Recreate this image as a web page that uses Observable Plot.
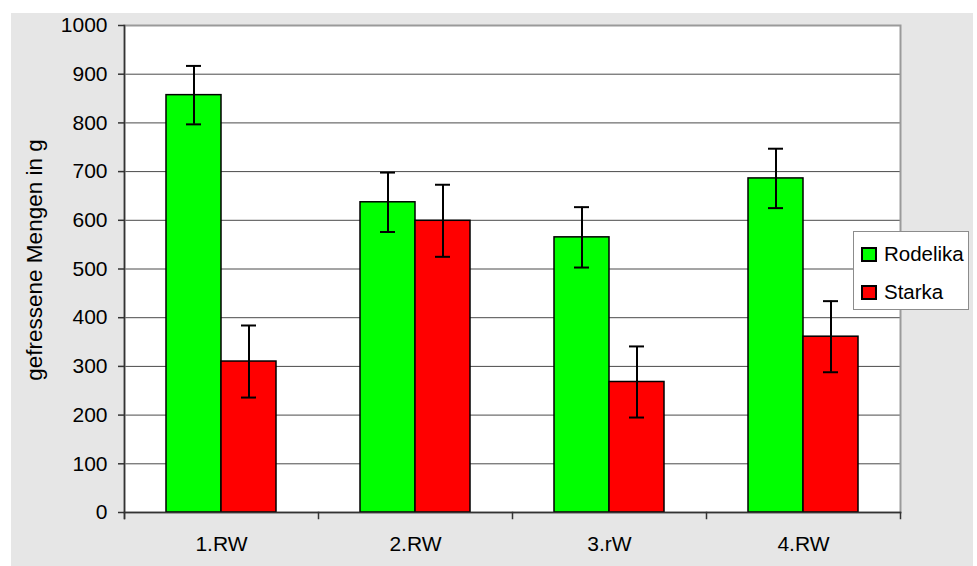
<!DOCTYPE html>
<html>
<head>
<meta charset="utf-8">
<script src="https://cdn.jsdelivr.net/npm/d3@7"></script>
<script src="https://cdn.jsdelivr.net/npm/@observablehq/plot@0.6"></script>
<style>
  body { margin: 0; background: #fff; font-family: "Liberation Sans", Arial, sans-serif; }
  #wrap { position: relative; width: 977px; height: 566px; overflow: hidden; }
  #bg { position: absolute; left: 11px; top: 13px; width: 962px; height: 553px; background: #e6e6e6; }
  #chart { position: absolute; left: 0; top: 0; }
  #legend { position: absolute; left: 853px; top: 231px; width: 116px; height: 79px; background: #fff;
            border: 1px solid #8c8c8c; box-sizing: border-box; font-size: 20.5px; color: #000; }
  .item { position: absolute; left: 7px; height: 20px; display: flex; align-items: center; white-space: nowrap; }
  .sw { width: 16px; height: 15px; border: 2px solid #000; box-sizing: border-box; margin-right: 7px; }
</style>
</head>
<body>
<div id="wrap">
  <div id="bg"></div>
  <div id="chart"></div>
  <div id="legend"></div>
</div>
<script>
const categories = ["1.RW", "2.RW", "3.rW", "4.RW"];
const series = ["Rodelika", "Starka"];
const colors = ["#00ff00", "#ff0000"];
const rodelika = [857, 637, 565, 686];
const rodelikaErr = [60, 61, 62, 61];
const starka = [310, 599, 268, 361];
const starkaErr = [74, 74, 73, 73];
const yTicks = [0, 100, 200, 300, 400, 500, 600, 700, 800, 900, 1000];
const yLabel = "gefressene Mengen in g";

const data = categories.flatMap((c, i) => [
  {cat: c, series: series[0], value: rodelika[i], err: rodelikaErr[i]},
  {cat: c, series: series[1], value: starka[i], err: starkaErr[i]}
]);

const W = 977, H = 566, mL = 123, mR = 76, mT = 25, mB = 54;
const plotH = H - mT - mB;
const axisColor = "#333";

const chart = Plot.plot({
  width: W, height: H,
  marginLeft: mL, marginRight: mR, marginTop: mT, marginBottom: mB,
  style: {background: "transparent", fontFamily: "'Liberation Sans', Arial, sans-serif", fontSize: "21px", color: "#000", overflow: "visible"},
  fx: {domain: categories, paddingInner: 0, paddingOuter: 0, label: null, axis: null},
  x: {domain: series, paddingInner: 0, paddingOuter: 0.75, axis: null},
  y: {domain: [0, 1000], axis: null},
  color: {domain: series, range: colors},
  marks: [
    Plot.frame({facet: "super", fill: "white", stroke: "none"}),
    Plot.gridY(yTicks, {stroke: "#4a4a4a", strokeOpacity: 1, strokeWidth: 1}),
    Plot.frame({facet: "super", stroke: "#9a9a9a", strokeWidth: 2}),
    Plot.barY(data, {fx: "cat", x: "series", y: "value", fill: "series", stroke: "#000", strokeWidth: 1.5}),
    Plot.ruleX(data, {fx: "cat", x: "series", y1: d => d.value - d.err, y2: d => d.value + d.err, stroke: "#000", strokeWidth: 2}),
    Plot.tickY(data, {fx: "cat", x: "series", y: d => d.value + d.err, insetLeft: 20, insetRight: 20, stroke: "#000", strokeWidth: 2}),
    Plot.tickY(data, {fx: "cat", x: "series", y: d => d.value - d.err, insetLeft: 20, insetRight: 20, stroke: "#000", strokeWidth: 2}),
    Plot.frame({facet: "super", anchor: "left", stroke: axisColor, strokeWidth: 1.5, insetBottom: -6}),
    Plot.frame({facet: "super", anchor: "bottom", stroke: axisColor, strokeWidth: 1.5}),
    Plot.frame({anchor: "left", insetTop: plotH, insetBottom: -6, stroke: axisColor, strokeWidth: 1.5}),
    Plot.frame({facet: "super", anchor: "right", insetTop: plotH, insetBottom: -6, stroke: axisColor, strokeWidth: 1.5}),
    Plot.axisY(yTicks, {anchor: "left", tickSize: 6, tickPadding: 11, fontSize: 21, stroke: axisColor, strokeWidth: 1.5,
      tickFormat: d => String(d), label: null, fill: "#000"}),
    Plot.text([yLabel], {facet: "super", frameAnchor: "left", rotate: -90, dx: -90, dy: -9,
      fontSize: 22.5, lineAnchor: "middle", textAnchor: "middle", fill: "#000"}),
    Plot.axisFx({anchor: "bottom", tickSize: 0, tickPadding: 24, fontSize: 21, label: null, fill: "#000"})
  ]
});
document.getElementById("chart").appendChild(chart);

const legend = document.getElementById("legend");
series.forEach((s, i) => {
  const item = document.createElement("div");
  item.className = "item";
  item.style.top = (i === 0 ? 12 : 50) + "px";
  const sw = document.createElement("div");
  sw.className = "sw";
  sw.style.background = colors[i];
  const t = document.createElement("span");
  t.textContent = s;
  item.appendChild(sw);
  item.appendChild(t);
  legend.appendChild(item);
});
</script>
</body>
</html>
